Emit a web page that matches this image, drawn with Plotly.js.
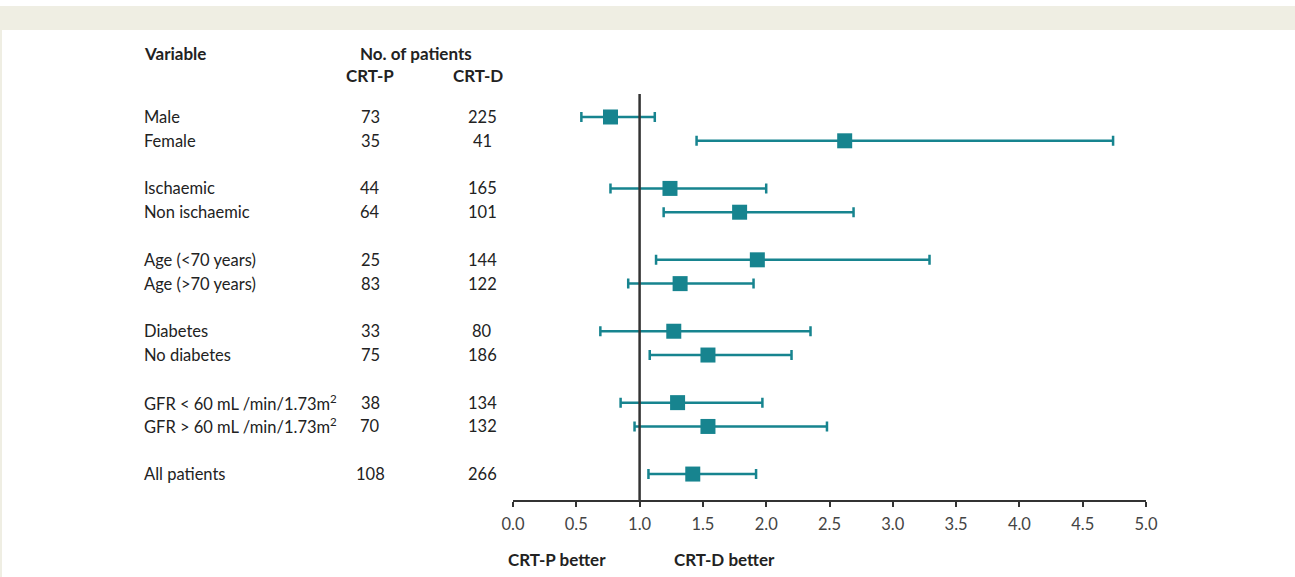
<!DOCTYPE html>
<html>
<head>
<meta charset="utf-8">
<script src="https://cdn.plot.ly/plotly-3.0.1.min.js"></script>
<style>html,body{margin:0;padding:0;background:#fff;}#chart{width:1295px;height:577px;}</style>
</head>
<body>
<div id="chart"></div>
<script>
// ---- data ----
const variables = ["Male", "Female", "Ischaemic", "Non ischaemic", "Age (<70 years)", "Age (>70 years)",
  "Diabetes", "No diabetes", "GFR < 60 mL /min/1.73m<sup>2</sup>", "GFR > 60 mL /min/1.73m<sup>2</sup>", "All patients"];
const groups = [1, 1, 2, 2, 3, 3, 4, 4, 5, 5, 6];
const nCRTP = [73, 35, 44, 64, 25, 83, 33, 75, 38, 70, 108];
const nCRTD = [225, 41, 165, 101, 144, 122, 80, 186, 134, 132, 266];
const hr    = [0.77, 2.62, 1.24, 1.79, 1.93, 1.32, 1.27, 1.54, 1.30, 1.54, 1.42];
const ciLow = [0.54, 1.45, 0.77, 1.19, 1.13, 0.91, 0.69, 1.08, 0.85, 0.96, 1.07];
const ciHigh= [1.12, 4.74, 2.00, 2.69, 3.29, 1.90, 2.35, 2.20, 1.97, 2.48, 1.92];
const xTicks = [0, 0.5, 1, 1.5, 2, 2.5, 3, 3.5, 4, 4.5, 5];

// ---- derived ----
const rowY = variables.map((v, i) => i + groups[i] - 1);
const teal = '#17848f';
const font = 'Lato, "Open Sans", sans-serif';
const txt = '#222';
const rowFont = {family: font, size: 16.5, color: txt};

const trace = {
  type: 'scatter', mode: 'markers',
  x: hr, y: rowY,
  marker: {symbol: 'square', size: 15, color: teal},
  error_x: {type: 'data', symmetric: false,
    array: hr.map((h, i) => ciHigh[i] - h),
    arrayminus: hr.map((h, i) => h - ciLow[i]),
    color: teal, thickness: 2.5, width: 5},
  hoverinfo: 'x', showlegend: false, cliponaxis: false
};

const PX = (px) => (px - 513) / 633;   // pixel -> paper x
const PY = (py) => (500 - py) / 406;   // pixel -> paper y

const ann = [];
variables.forEach((v, i) => {
  ann.push({xref: 'paper', yref: 'y', x: PX(142), y: rowY[i], text: v, showarrow: false,
    xanchor: 'left', yanchor: 'middle', font: rowFont});
  ann.push({xref: 'paper', yref: 'y', x: PX(370), y: rowY[i], text: String(nCRTP[i]), showarrow: false,
    xanchor: 'center', yanchor: 'middle', font: rowFont});
  ann.push({xref: 'paper', yref: 'y', x: PX(482), y: rowY[i], text: String(nCRTD[i]), showarrow: false,
    xanchor: 'center', yanchor: 'middle', font: rowFont});
});
const bold = {family: font, size: 17, color: txt, weight: 'bold'};
ann.push({xref: 'paper', yref: 'paper', x: PX(142), y: PY(53), text: '<b>Variable</b>', showarrow: false, xanchor: 'left', yanchor: 'middle', font: bold});
ann.push({xref: 'paper', yref: 'paper', x: PX(416), y: PY(53), text: '<b>No. of patients</b>', showarrow: false, xanchor: 'center', yanchor: 'middle', font: bold});
ann.push({xref: 'paper', yref: 'paper', x: PX(370), y: PY(76), text: '<b>CRT-P</b>', showarrow: false, xanchor: 'center', yanchor: 'middle', font: bold});
ann.push({xref: 'paper', yref: 'paper', x: PX(478), y: PY(76), text: '<b>CRT-D</b>', showarrow: false, xanchor: 'center', yanchor: 'middle', font: bold});
ann.push({xref: 'paper', yref: 'paper', x: PX(557), y: PY(559), text: '<b>CRT-P better</b>', showarrow: false, xanchor: 'center', yanchor: 'middle', font: bold});
ann.push({xref: 'paper', yref: 'paper', x: PX(724), y: PY(559), text: '<b>CRT-D better</b>', showarrow: false, xanchor: 'center', yanchor: 'middle', font: bold});

const layout = {
  width: 1295, height: 577,
  margin: {l: 513, r: 149, t: 94, b: 77},
  paper_bgcolor: '#fff', plot_bgcolor: 'rgba(0,0,0,0)',
  xaxis: {range: [0, 5], tickvals: xTicks, ticktext: xTicks.map(t => t.toFixed(1)),
    showline: true, linecolor: '#333', linewidth: 2, ticks: 'outside', ticklen: 5, tickwidth: 2, tickcolor: '#333',
    ticklabelstandoff: 3,
    showgrid: false, zeroline: false, tickfont: {family: font, size: 16.5, color: '#444'}, fixedrange: true},
  yaxis: {range: [16.09, -0.966], showgrid: false, zeroline: false, showline: false, showticklabels: false, ticks: '', fixedrange: true},
  shapes: [
    {type: 'rect', xref: 'paper', yref: 'paper', x0: PX(0), x1: PX(1295), y0: PY(30), y1: PY(6), fillcolor: '#efeee3', line: {width: 0}, layer: 'below'},
    {type: 'rect', xref: 'paper', yref: 'paper', x0: PX(0), x1: PX(2), y0: PY(577), y1: PY(30), fillcolor: '#efeee3', line: {width: 0}, layer: 'below'},
    {type: 'line', xref: 'x', yref: 'paper', x0: 1, x1: 1, y0: 0, y1: 1, line: {color: '#333', width: 2.5}}
  ],
  annotations: ann
};

Plotly.newPlot('chart', [trace], layout, {displayModeBar: false, staticPlot: true});
</script>
</body>
</html>
